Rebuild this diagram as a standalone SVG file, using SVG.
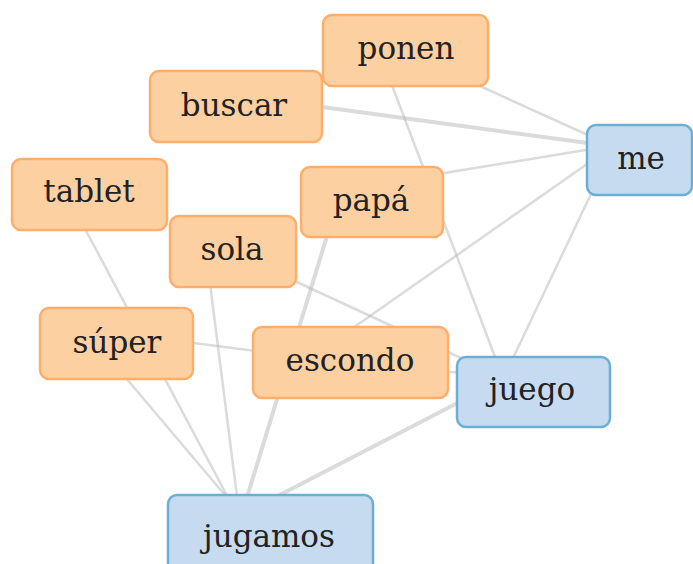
<svg xmlns="http://www.w3.org/2000/svg" width="693" height="564" viewBox="0 0 693 564">
<style>
.e{stroke:#b8b8b8;stroke-opacity:0.5;stroke-width:2.5;fill:none}
.t{stroke-width:4}
.o rect{fill:#fdd0a2;stroke:#fdae6b;stroke-width:2.5}
.b rect{fill:#c6dbef;stroke:#6baed6;stroke-width:2.5}
text{font-family:"DejaVu Serif","Liberation Serif",serif;font-size:31px;fill:#222;text-anchor:middle}
</style>
<rect width="693" height="564" fill="#fff"/>
<g id="connectors">
<line class="e" x1="460" y1="77" x2="610" y2="145"/>
<line class="e t" x1="300" y1="104" x2="610" y2="146"/>
<line class="e" x1="420" y1="177" x2="610" y2="146"/>
<line class="e" x1="600" y1="155" x2="350" y2="330"/>
<line class="e" x1="600" y1="175" x2="505" y2="375"/>
<line class="e" x1="390" y1="80" x2="500" y2="370"/>
<line class="e t" x1="335" y1="210" x2="240" y2="520"/>
<line class="e" x1="207" y1="260" x2="240" y2="520"/>
<line class="e" x1="75" y1="210" x2="240" y2="520"/>
<line class="e" x1="115" y1="365" x2="235" y2="507"/>
<line class="e" x1="170" y1="340" x2="280" y2="354"/>
<line class="e" x1="260" y1="265" x2="530" y2="390"/>
<line class="e" x1="400" y1="371" x2="500" y2="373"/>
<line class="e t" x1="500" y1="381" x2="270" y2="500"/>
</g>
<g id="ponen" class="o"><rect x="323" y="15" width="165" height="71" rx="9"/><text x="406" y="59">ponen</text></g>
<g id="buscar" class="o"><rect x="150" y="71" width="172" height="71" rx="9"/><text x="234" y="116">buscar</text></g>
<g id="me" class="b"><rect x="587" y="125" width="105" height="70" rx="9"/><text x="641" y="169">me</text></g>
<g id="tablet" class="o"><rect x="12" y="159" width="155" height="71" rx="9"/><text x="89" y="202">tablet</text></g>
<g id="papa" class="o"><rect x="301" y="167" width="142" height="70" rx="9"/><text x="371" y="211">papá</text></g>
<g id="sola" class="o"><rect x="170" y="216" width="126" height="71" rx="9"/><text x="232" y="260">sola</text></g>
<g id="super" class="o"><rect x="40" y="308" width="153" height="71" rx="9"/><text x="117" y="353">súper</text></g>
<g id="escondo" class="o"><rect x="253" y="327" width="195" height="71" rx="9"/><text x="350" y="371">escondo</text></g>
<g id="juego" class="b"><rect x="457" y="357" width="153" height="70" rx="9"/><text x="532" y="400">juego</text></g>
<g id="jugamos" class="b"><rect x="168" y="495" width="205" height="84" rx="9"/><text x="269" y="547">jugamos</text></g>
</svg>
